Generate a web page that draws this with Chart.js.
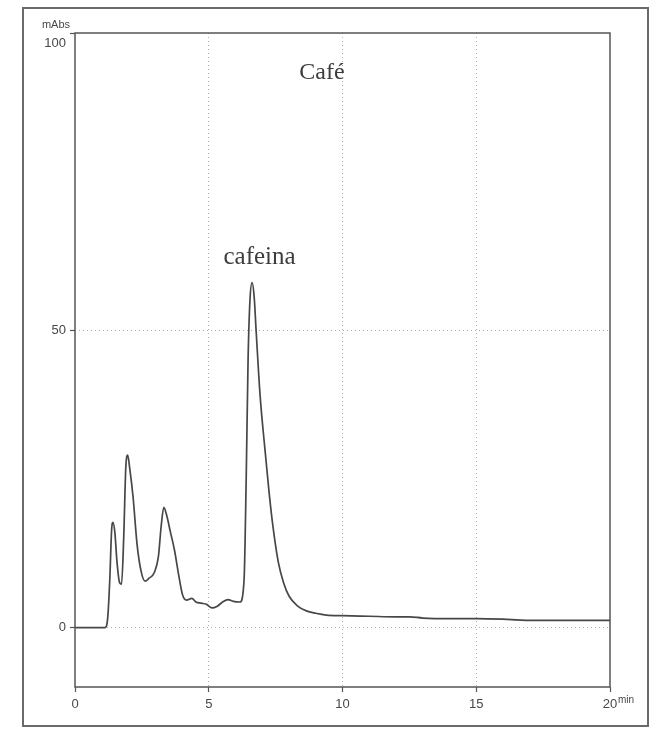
<!DOCTYPE html>
<html>
<head>
<meta charset="utf-8">
<script src="https://cdn.jsdelivr.net/npm/chart.js@4"></script>
<style>
  html, body { margin: 0; padding: 0; background: #ffffff; }
  #wrap { width: 656px; height: 731px; position: relative; }
</style>
</head>
<body>
<div id="wrap"><canvas id="c" width="656" height="731"></canvas></div>
<script>
// ---- Data ----
const timeMin = [0, 1.12, 1.22, 1.3, 1.37, 1.42, 1.49, 1.57, 1.67, 1.74, 1.82, 1.9, 1.97, 2.04, 2.17, 2.32, 2.47, 2.62, 2.77, 2.97, 3.12, 3.22, 3.32, 3.42, 3.57, 3.72, 3.87, 4.02, 4.17, 4.37, 4.52, 4.72, 4.92, 5.12, 5.32, 5.52, 5.72, 5.92, 6.17, 6.32, 6.4, 6.47, 6.54, 6.62, 6.7, 6.77, 6.92, 7.1, 7.25, 7.4, 7.6, 7.8, 8.0, 8.3, 8.65, 9.0, 9.4, 10, 11, 12, 12.5, 13, 14, 15, 16, 16.5, 17, 18, 19, 20];
const absorbance = [0, 0, 1.5, 8, 16.5, 17.7, 16, 11, 7.5, 7.3, 15, 27, 29, 27, 22, 14, 9.5, 7.8, 8.3, 9.3, 12, 17, 20.2, 19, 16, 13, 9, 5.5, 4.6, 4.9, 4.3, 4.1, 3.9, 3.3, 3.6, 4.3, 4.7, 4.4, 4.3, 8, 25, 45, 55, 58, 55.5, 50, 39, 30, 23, 17, 11, 7.5, 5.3, 3.7, 2.8, 2.4, 2.1, 2.0, 1.9, 1.8, 1.8, 1.6, 1.5, 1.5, 1.4, 1.3, 1.2, 1.2, 1.2, 1.2];
const xTickValues = [0, 5, 10, 15, 20];
const yTickValues = [0, 50, 100];
const titleText = "Café";
const peakLabel = "cafeina";
const yUnit = "mAbs";
const xUnit = "min";

const points = timeMin.map((t, i) => ({ x: t, y: absorbance[i] }));
const textColor = '#474747';
const gridColor = 'rgba(110,110,110,0.55)';

const decorPlugin = {
  id: 'decor',
  beforeDraw(chart) {
    const ctx = chart.ctx;
    ctx.save();
    ctx.fillStyle = '#ffffff';
    ctx.fillRect(0, 0, chart.width, chart.height);
    ctx.restore();
  },
  afterDraw(chart) {
    const ctx = chart.ctx;
    const a = chart.chartArea;
    const xs = chart.scales.x, ys = chart.scales.y;
    ctx.save();
    // outer frame
    ctx.strokeStyle = '#6a6a6a';
    ctx.lineWidth = 2;
    ctx.strokeRect(23, 8, 625, 718);
    // plot frame
    ctx.strokeStyle = '#555555';
    ctx.lineWidth = 1.5;
    ctx.strokeRect(a.left, a.top, a.right - a.left, a.bottom - a.top);
    // unit labels
    ctx.fillStyle = textColor;
    ctx.font = '11px "Liberation Sans", Arial, sans-serif';
    ctx.textAlign = 'right';
    ctx.textBaseline = 'middle';
    ctx.fillText(yUnit, a.left - 5, a.top - 8);
    ctx.textAlign = 'left';
    ctx.font = '10px "Liberation Sans", Arial, sans-serif';
    ctx.fillText(xUnit, xs.getPixelForValue(20) + 8, a.bottom + 13);
    // annotations
    ctx.fillStyle = '#3c3c3c';
    ctx.font = '24px "Liberation Serif", "Times New Roman", serif';
    ctx.textAlign = 'center';
    ctx.textBaseline = 'alphabetic';
    ctx.fillText(titleText, xs.getPixelForValue(9.23), ys.getPixelForValue(92.3));
    ctx.font = '25px "Liberation Serif", "Times New Roman", serif';
    ctx.fillText(peakLabel, xs.getPixelForValue(6.9), ys.getPixelForValue(61.1));
    ctx.restore();
  }
};

new Chart(document.getElementById('c'), {
  type: 'line',
  data: {
    datasets: [{
      data: points,
      borderColor: '#474747',
      borderWidth: 1.7,
      pointRadius: 0,
      fill: false,
      cubicInterpolationMode: 'monotone'
    }]
  },
  options: {
    responsive: false,
    animation: false,
    devicePixelRatio: 1,
    layout: { padding: { top: 33, right: 46, left: 0, bottom: 0 } },
    plugins: { legend: { display: false }, tooltip: { enabled: false } },
    scales: {
      x: {
        type: 'linear',
        min: 0, max: 20,
        afterBuildTicks: s => { s.ticks = xTickValues.map(v => ({ value: v })); },
        afterFit: s => { s.height = 44; },
        ticks: {
          color: textColor,
          font: { family: '"Liberation Sans", Arial, sans-serif', size: 13 },
          padding: 5,
          maxRotation: 0,
          autoSkip: false
        },
        grid: {
          color: ctx => (ctx.tick && (ctx.tick.value === 0 || ctx.tick.value === 20)) ? 'rgba(0,0,0,0)' : gridColor,
          lineWidth: 1,
          tickLength: 5,
          tickColor: '#555555',
          tickWidth: 1.2
        },
        border: { display: false, dash: [1, 3] }
      },
      y: {
        type: 'linear',
        min: -10, max: 100,
        afterBuildTicks: s => { s.ticks = yTickValues.map(v => ({ value: v })); },
        afterFit: s => { s.width = 75; },
        ticks: {
          color: textColor,
          font: { family: '"Liberation Sans", Arial, sans-serif', size: 13, lineHeight: 1.6 },
          padding: 4,
          autoSkip: false,
          callback: v => (v === 100 ? ['', '100'] : String(v))
        },
        grid: {
          color: ctx => (ctx.tick && ctx.tick.value === 100) ? 'rgba(0,0,0,0)' : gridColor,
          lineWidth: 1,
          tickLength: 5,
          tickColor: '#555555',
          tickWidth: 1.2
        },
        border: { display: false, dash: [1, 3] }
      }
    }
  },
  plugins: [decorPlugin]
});
</script>
</body>
</html>
